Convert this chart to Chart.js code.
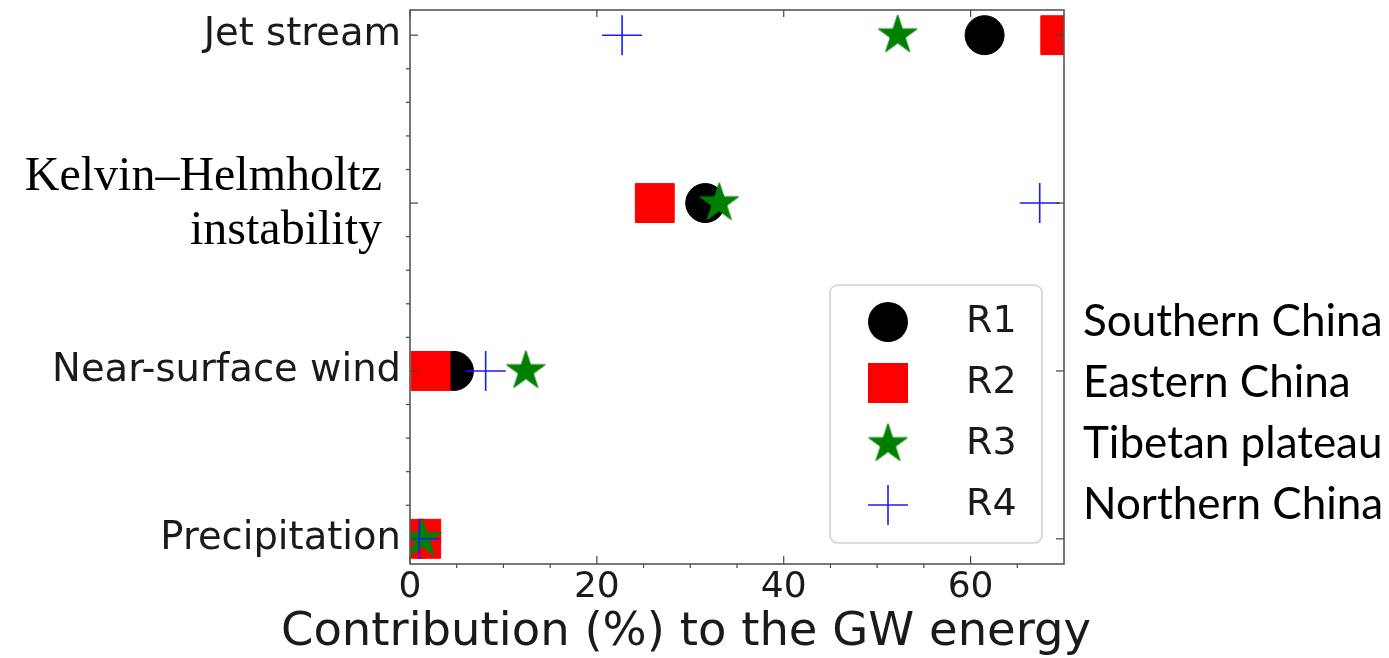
<!DOCTYPE html>
<html><head><meta charset="utf-8">
<script src="https://cdn.jsdelivr.net/npm/chart.js@4/dist/chart.umd.min.js"></script>
<style>html,body{margin:0;padding:0;background:#fff;} #wrap{width:1389px;height:658px;position:relative;}</style>
</head><body><div id="wrap"><canvas id="c" width="1389" height="658"></canvas></div>
<script>
// ---- data ----
const categories = ['Precipitation', 'Near-surface wind', 'Kelvin–Helmholtz instability', 'Jet stream']; // y = 0..3
const catValues = [0, 1, 2, 3];
const seriesNames = ['R1', 'R2', 'R3', 'R4'];
const regionNames = ['Southern China', 'Eastern China', 'Tibetan plateau', 'Northern China'];
// contribution (%) by category (Precipitation, Near-surface wind, Kelvin–Helmholtz, Jet stream)
const r1 = [1.2, 4.7, 31.6, 61.5];
const r2 = [1.2, 2.2, 26.2, 69.6];
const r3 = [1.3, 12.4, 33.1, 52.2];
const r4 = [1.0, 8.1, 67.4, 22.7];
const xTicks = [0, 20, 40, 60];
const xTitle = 'Contribution (%) to the GW energy';

// ---- marker helpers ----
function makeStar(R, color) {
  const s = Math.ceil(R * 2 + 4);
  const c = document.createElement('canvas'); c.width = s; c.height = s;
  const g = c.getContext('2d');
  const cx = s / 2, cy = s / 2, r = R * 0.381966;
  g.beginPath();
  for (let k = 0; k < 10; k++) {
    const ang = -Math.PI / 2 + k * Math.PI / 5, rr = k % 2 ? r : R;
    g.lineTo(cx + rr * Math.cos(ang), cy + rr * Math.sin(ang));
  }
  g.closePath(); g.fillStyle = color; g.fill();
  g.strokeStyle = color; g.lineWidth = 1; g.stroke();
  return c;
}
const starImg = makeStar(20.5, '#008000');

const toPts = arr => arr.map((v, i) => ({ x: v, y: catValues[i] }));

const datasets = [
  { label: seriesNames[0], data: toPts(r1), pointStyle: 'circle', pointRadius: 19.5, backgroundColor: '#000', borderColor: '#000', borderWidth: 1, order: 4 },
  { label: seriesNames[1], data: toPts(r2), pointStyle: 'rect', pointRadius: 27.5, backgroundColor: '#ff0000', borderColor: '#ff0000', borderWidth: 1, order: 3 },
  { label: seriesNames[2], data: toPts(r3), pointStyle: starImg, pointRadius: 20, backgroundColor: '#008000', borderColor: '#008000', order: 2 },
  { label: seriesNames[3], data: toPts(r4), pointStyle: 'cross', pointRadius: 20, backgroundColor: '#0000ff', borderColor: '#1a1aff', borderWidth: 1.6, order: 1 }
].map(d => Object.assign(d, { showLine: false, clip: 0, pointHoverRadius: d.pointRadius }));

function line(ctx, x1, y1, x2, y2) { ctx.beginPath(); ctx.moveTo(x1, y1); ctx.lineTo(x2, y2); ctx.stroke(); }

const decor = {
  id: 'decor',
  afterDraw(chart) {
    const { ctx, chartArea: a, scales: { x, y } } = chart;
    ctx.save();
    // ticks
    ctx.strokeStyle = '#444'; ctx.lineWidth = 1.2;
    catValues.forEach(v => {
      const py = y.getPixelForValue(v);
      line(ctx, a.left, py, a.left + 8, py);
      line(ctx, a.right, py, a.right - 8, py);
    });
    for (let k = 1; k <= 15; k++) {
      if (k % 5 === 0) continue;
      const v = k * 0.2; if (v > y.max) continue;
      const py = y.getPixelForValue(v);
      line(ctx, a.left, py, a.left - 4, py);
    }
    xTicks.forEach(v => {
      const px = x.getPixelForValue(v);
      line(ctx, px, a.bottom, px, a.bottom - 8);
      line(ctx, px, a.top, px, a.top + 7);
    });
    for (let v = 5; v < x.max; v += 5) {
      if (v % 20 === 0) continue;
      const px = x.getPixelForValue(v);
      line(ctx, px, a.bottom, px, a.bottom + 4);
    }
    // frame
    ctx.strokeStyle = '#555'; ctx.lineWidth = 1.6;
    ctx.strokeRect(a.left, a.top, a.width, a.height);

    // y labels
    ctx.fillStyle = '#1a1a1a';
    ctx.font = '38.5px "DejaVu Sans"';
    ctx.textAlign = 'right'; ctx.textBaseline = 'middle';
    [0, 1, 3].forEach(i => ctx.fillText(categories[i], a.left - 9, y.getPixelForValue(catValues[i])));
    // Kelvin–Helmholtz (serif, two lines)
    ctx.fillStyle = '#000';
    ctx.font = '48px "Liberation Serif"';
    ctx.textBaseline = 'alphabetic';
    const kh = y.getPixelForValue(catValues[2]);
    ctx.fillText('Kelvin–Helmholtz', a.left - 28, kh - 13);
    ctx.fillText('instability', a.left - 28, kh + 41);

    // x tick labels
    ctx.fillStyle = '#1a1a1a';
    ctx.font = '36px "DejaVu Sans"';
    ctx.textAlign = 'center'; ctx.textBaseline = 'alphabetic';
    xTicks.forEach(v => ctx.fillText(String(v), x.getPixelForValue(v), a.bottom + 33));
    // x title
    ctx.font = '46.5px "DejaVu Sans"';
    ctx.fillText(xTitle, 686, a.bottom + 81);

    // legend
    const lx = 830, ly = 285, lw = 212, lh = 258, rows = [322, 383, 444, 505];
    ctx.beginPath();
    ctx.roundRect(lx, ly, lw, lh, 8);
    ctx.fillStyle = 'rgba(255,255,255,0.85)'; ctx.fill();
    ctx.strokeStyle = '#cfcfcf'; ctx.lineWidth = 1.5; ctx.stroke();
    const mx = 888;
    // R1 circle
    ctx.fillStyle = '#000'; ctx.beginPath(); ctx.arc(mx, rows[0], 20, 0, Math.PI * 2); ctx.fill();
    // R2 square
    ctx.fillStyle = '#ff0000'; ctx.fillRect(mx - 20, rows[1] - 20, 40, 40);
    // R3 star
    ctx.drawImage(starImg, mx - starImg.width / 2, rows[2] - starImg.height / 2);
    // R4 cross
    ctx.strokeStyle = '#1a1aff'; ctx.lineWidth = 1.6;
    line(ctx, mx - 20, rows[3], mx + 20, rows[3]); line(ctx, mx, rows[3] - 20, mx, rows[3] + 20);
    ctx.fillStyle = '#1a1a1a';
    ctx.font = '38px "DejaVu Sans"';
    ctx.textAlign = 'left'; ctx.textBaseline = 'middle';
    seriesNames.forEach((n, i) => ctx.fillText(n, 966, rows[i]));
    // region names
    ctx.fillStyle = '#000';
    ctx.font = '44px "Lato"';
    regionNames.forEach((n, i) => ctx.fillText(n, 1083, rows[i]));
    ctx.restore();
  }
};

new Chart(document.getElementById('c'), {
  type: 'scatter',
  data: { datasets },
  options: {
    responsive: false,
    animation: false,
    events: [],
    layout: { autoPadding: false, padding: { left: 410, right: 325, top: 10, bottom: 94 } },
    plugins: { legend: { display: false }, tooltip: { enabled: false } },
    scales: {
      x: { type: 'linear', min: 0, max: 70, display: false },
      y: { type: 'linear', min: -0.15, max: 3.15, display: false }
    }
  },
  plugins: [decor]
});
</script>
</body></html>
